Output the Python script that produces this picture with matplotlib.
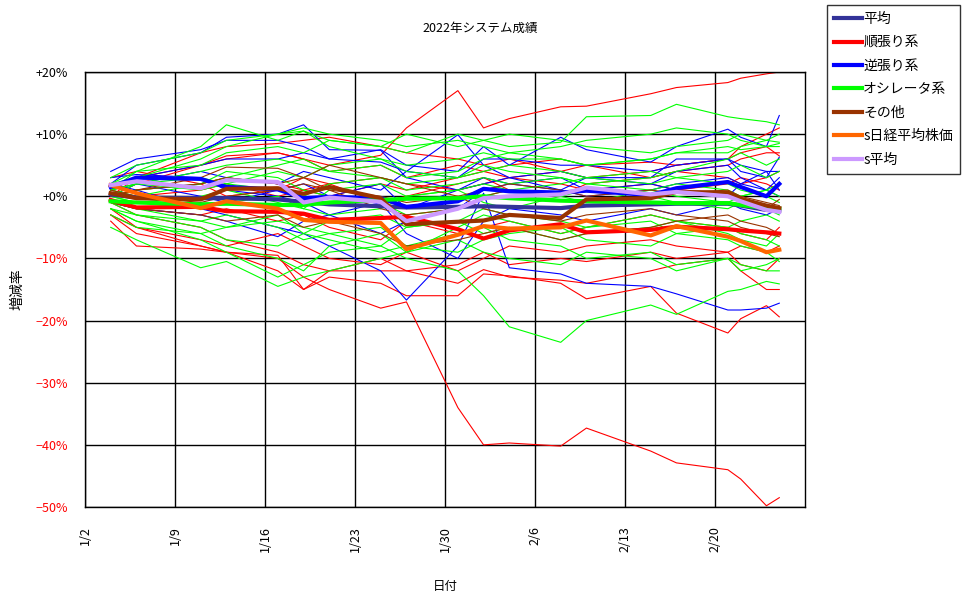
import numpy as np
import pandas as pd
import matplotlib
matplotlib.use("Agg")
import matplotlib.pyplot as plt
from matplotlib.lines import Line2D

plt.rcParams['font.family'] = ['Noto Sans CJK JP', 'DejaVu Sans']

# dates used for the lines (2022)
dates = ['1/4', '1/6', '1/11', '1/13', '1/17', '1/19', '1/21', '1/25', '1/27', '1/31',
         '2/2', '2/4', '2/8', '2/10', '2/15', '2/17', '2/21', '2/22', '2/24', '2/25']

# summary lines (%)
avg_all = [0.3, -0.2, -0.3, -0.3, -0.5, -0.9, -1.3, -1.6, -1.8, -1.7,
           -1.6, -1.7, -1.9, -1.5, -1.3, -1.2, -1.2, -1.5, -2.2, -2.3]
avg_trend = [-0.6, -1.8, -1.7, -2.4, -2.5, -2.8, -3.8, -3.5, -3.3, -5.3,
             -6.8, -5.5, -4.5, -5.8, -5.4, -4.9, -5.3, -5.5, -5.8, -6.0]
avg_contra = [1.5, 3.0, 2.8, 1.5, 1.1, -0.3, -0.1, -0.3, -1.7, -0.8,
              1.2, 0.8, 0.6, 0.9, 0.2, 1.3, 2.3, 1.5, 0.0, 2.0]
avg_osc = [-0.8, -1.0, -1.3, -1.2, -1.4, -1.4, -1.0, -0.6, -0.4, -0.3,
           0.0, -0.3, -0.7, -0.8, -1.0, -1.1, -1.1, -1.4, -1.9, -2.0]
avg_other = [0.5, -0.3, -0.5, 1.2, 1.3, 0.4, 1.5, -0.3, -4.5, -4.1,
             -3.9, -3.0, -3.5, -0.5, -0.3, 0.7, 0.6, -0.4, -1.5, -1.9]
nikkei = [1.8, 0.5, -1.9, -0.8, -2.0, -3.8, -4.1, -4.3, -8.5, -6.2,
          -4.8, -5.2, -5.0, -3.9, -6.3, -4.8, -6.5, -7.2, -9.0, -8.6]
s_avg = [1.8, 2.4, 1.3, 2.6, 2.3, -1.0, -0.2, -0.9, -4.0, -2.0,
         -0.3, 0.0, 0.3, 1.4, 0.3, 0.7, 0.0, -0.8, -2.2, -2.5]

# individual systems (%)
trend_lines = [
    [0, 2, 5, 6, 7, 6, 5, 6.6, 11, 17, 11, 12.5, 14.4, 14.5, 16.5, 17.5, 18.3, 19, 19.7, 20],
    [-2, -5, -8, -9, -10, -13, -15, -18, -17, -34, -40, -39.7, -40.2, -37.3, -41, -42.9, -44, -45.5, -49.8, -48.5],
    [-3, -6, -8, -9, -12, -15, -13, -14, -16, -16, -12.5, -12.8, -14, -16.5, -14.5, -18.8, -22, -19.7, -17.6, -19.4],
    [-1, -3, -5, -7, -9, -11, -12, -10, -12, -14, -11.8, -13, -13.5, -14, -12, -11, -10, -12, -15, -15],
    [1, 3, 5, 6.5, 7, 6, 4, 5, 3, 5, 4, 5, 6, 5, 5.5, 5, 6, 7, 8, 6.5],
    [0, 1, 2, 3, 2, 1, 0, 2, 1, 3, 4, 3, 4, 3, 4, 5, 6, 8, 10, 11],
    [-1, -2, -3, -2, -4, -3, -5, -7, -4, -6, -5, -4, -6, -5, -3, -4, -5, -6, -7, -5],
    [-4, -8, -8.5, -9, -9.5, -15, -12, -12, -12, -11, -9, -11, -10, -10.5, -9, -10, -9, -11, -12, -10],
    [1, 0, 1, 2, 0, 1, 2, 3, 2, 1, 2, 3, 2, 1, 2, 1, 2, 3, 2, 1],
    [-3, -5, -7, -8, -6, -8, -10, -11, -9, -12, -10, -8, -9, -8, -7, -8, -9, -8, -9, -8],
    [3, 4, 2, 0, 1, 3, 2, -1, 0, 2, 3, 1, 0, 2, 3, 4, 3, 2, 3, 4],
    [0, 3, 7, 8, 8.5, 9, 9.5, 8, 7, 6, 5, 6, 4, 5, 3, 4, 5, 6, 7, 7],
]
contra_lines = [
    [2, 5, 7, 9.5, 10, 11.5, 7.5, 7.4, 3, 1, 2, 3, 1, 0, 1, 2, 3, 2, 1, 0],
    [2, 1, -2, -3, -5, -6, -8, -12, -16.7, -8, 0.5, -11.5, -12.5, -14, -14.5, -15.7, -18.3, -18.3, -18, -17.2],
    [1, 3, 5, 6, 6, 7, 6, 7.5, 5, 4, 8, 5, 9.5, 7.5, 5.5, 8, 10.8, 9.5, 8, 13],
    [0, 2, 4, 3, 2, 4, 3, 1, 4, 9.9, 5, 3, 4, 3, 3, 6, 6, 4, 3, 6.3],
    [3, 3.5, 3, 1, 0, -1, -3, -6, -4, -2, 1, 2, 3, 1, 2, 4, 5, 3, 1, 3],
    [-1, -2, -3, -4, -6.5, -4, -3, -1, -6, -10, -4, -2, -3, -4, -2, -3, -1, -2, -3, -2],
    [4, 6, 7.5, 9, 9, 8, 6, 5.5, 4, 3, 6, 6, 5, 5, 4, 5, 6, 5, 4, 4],
    [1, 2, 0, -1, 1, 2, 0, 2, -2, 1, 3, 2, 1, 3, 2, 1, 0, 2, 4, 1],
]
osc_lines = [
    [1, 4, 8, 11.5, 9, 10.5, 9, 8, 7, 10, 9, 8, 8.7, 12.8, 13, 14.8, 12.8, 12.5, 12, 11.5],
    [0, 2, 4, 5, 6, 5, 4, 5, 3, 4, 6, 7, 6, 5, 6, 7, 7, 8, 9, 8.7],
    [-2, -4, -7, -9, -13, -11, -9, -8, -10, -12, -16, -21, -23.5, -20, -17.5, -19, -15.3, -15, -13.7, -14.1],
    [-5, -7, -11.5, -10.5, -14.5, -13, -12, -10, -9, -7, -9, -10, -11, -9, -10, -12, -10, -11, -12, -12],
    [2, 3, 6, 8, 10, 10.5, 8, 6, 5, 6, 7, 6, 6, 5, 6, 7, 8, 7.5, 8, 8],
    [-1, -2, -4, -5, -3, -6, -4, -3, -5, -4, -2, -3, -4, -5, -3, -4, -5, -6, -7, -8],
    [0, -1, -2, -1, 0, -2, 1, 2, 0, 1, 2, 1, 0, -1, 1, 2, 1, 0, 1, 2],
    [1, 2, 3, 2, 4, 3, 5, 6, 4, 3, 4, 5, 4, 3, 2, 3, 4, 5, 3, 4],
    [-2, -3, -5, -7, -8, -6, -7, -9, -8, -6, -5, -7, -8, -10, -9, -11, -10, -12, -11, -10],
    [-3, -5, -6, -8, -10, -12, -8, -6, -9, -5, -3, -4, -6, -5, -4, -6, -7, -8, -9, -10.5],
    [0, 1, 2, 4, 3, 1, 0, -1, -3, -2, 0, 1, 2, 3, 4, 3, 2, 1, 0, -1],
    [1, 0, 2, 3, 5, 6, 4, 3, 2, 3, 5, 4, 3, 2, 3, 4, 6, 7, 5, 6],
    [-1, -3, -4, -3, -5, -7, -6, -5, -8, -9, -7, -6, -5, -7, -8, -6, -5, -4, -3, -4],
    [2, 4, 5, 7, 8, 7, 9, 8, 10, 8, 9, 10, 9, 8, 7, 8, 9, 10, 9, 10],
    [0, -1, 0, 1, -1, -2, -3, -2, 0, 1, -1, -2, 0, 1, 0, -1, -2, -1, -2, -3],
    [-2, -4, -6, -5, -4, -5, -6, -8, -5, -4, -6, -5, -7, -6, -5, -4, -6, -7, -8, -6],
    [1, 2, 1, 2, 1, 0, 2, 3, 1, 2, 3, 2, 3, 2, 1, 0, -1, 0, 1, 0],
    [3, 5, 7, 9, 10, 11, 10, 9, 8, 9, 8, 7, 8, 9, 10, 11, 10, 9, 8, 8.5],
]
other_lines = [
    [0, 1, 3, 4.7, 4.5, 3, 1, 0, -1, 0, 1, 2, 1, 0, 1, 0.5, 0, -1, -2, -0.5],
    [-1, -2, -3, -4, -3, -5, -4, -6, -8, -7, -6, -5, -7, -6, -5, -4, -3, -4, -5, -6],
    [1, 0, -1, 0, 1, 2, 1, -2, -3, -2, 0, 1, 0.5, 1, 0, 0.5, 1, 0, -1, -1.5],
    [0, 1, 2, 3, 2, 3, 5, 3, 2, 0, -2, -3, -4, -3, -2, -3, -4, -5, -6, -6.5],
]

series_names = ['平均', '順張り系', '逆張り系', 'オシレータ系', 'その他', 's日経平均株価', 's平均']
series_colors = ['#333399', '#FF0000', '#0000FF', '#00FF00', '#993300', '#FF6600', '#CC99FF']
ytick_vals = list(range(-50, 21, 10))

x = pd.to_datetime(['2022/' + d for d in dates])

fig = plt.figure(figsize=(9.7, 5.99), dpi=100)
ax = fig.add_axes([85 / 970, 92 / 599, 720 / 970, 435 / 599])

# thin lines for each system
for group, col in [(trend_lines, '#FF0000'), (contra_lines, '#0000FF'),
                   (osc_lines, '#00FF00'), (other_lines, '#993300')]:
    for vals in group:
        ax.plot(x, vals, color=col, lw=0.8, zorder=2)

# thick summary lines
summary = [avg_all, avg_trend, avg_contra, avg_osc, avg_other, nikkei, s_avg]
for vals, col in zip(summary, series_colors):
    ax.plot(x, vals, color=col, lw=3.0, zorder=3)

ax.set_ylim(-50, 20)
ax.set_yticks(ytick_vals)
ax.set_yticklabels([('+' if v >= 0 else '−') + f'{abs(v)}%' for v in ytick_vals],
                   fontsize=9)

xt = pd.date_range('2022-01-02', periods=8, freq='7D')
ax.set_xlim(pd.Timestamp('2022-01-02'), pd.Timestamp('2022-02-27'))
ax.set_xticks(xt)
ax.set_xticklabels([f'{d.month}/{d.day}' for d in xt], rotation=90, fontsize=9)

ax.grid(True, color='black', lw=1)
ax.set_axisbelow(True)
ax.tick_params(axis='y', length=0, pad=12)
ax.tick_params(axis='x', length=0, pad=14)
for s in ax.spines.values():
    s.set_color('black')
    s.set_linewidth(1)

ax.set_xlabel('日付', fontsize=9, labelpad=20)
ax.set_ylabel('増減率', fontsize=10, labelpad=8)
fig.text(480 / 970, 1 - 28 / 599, '2022年システム成績', ha='center', va='center', fontsize=9)

handles = [Line2D([0], [0], color=c, lw=3.0) for c in series_colors]
leg = fig.legend(handles, series_names, loc='upper left',
                 bbox_to_anchor=(827 / 970, 1 - 5 / 599), fontsize=10,
                 frameon=True, fancybox=False, handlelength=2.0, handletextpad=0.1,
                 labelspacing=0.68, borderpad=0.5, borderaxespad=0)
leg.get_frame().set_edgecolor('black')
leg.get_frame().set_linewidth(1)

# negative percentages in red
for lab, v in zip(ax.get_yticklabels(), ytick_vals):
    if v < 0:
        lab.set_color('#FF0000')

fig.savefig('out.png', dpi=100)
